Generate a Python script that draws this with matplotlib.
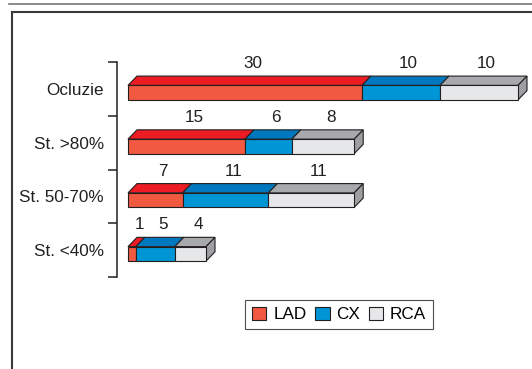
import matplotlib
matplotlib.use("Agg")
import matplotlib.pyplot as plt
from matplotlib.patches import Polygon, Patch
from matplotlib.lines import Line2D
import numpy as np

plt.rcParams["font.family"] = ["Liberation Sans", "DejaVu Sans"]

categories = ["Ocluzie", "St. >80%", "St. 50-70%", "St. <40%"]
series = ["LAD", "CX", "RCA"]
lad = [30, 15, 7, 1]
cx = [10, 6, 11, 5]
rca = [10, 8, 11, 4]

front_colors = ["#F15A40", "#0096D6", "#E6E7E8"]
top_colors = ["#ED1C24", "#0078BF", "#A7A9AC"]
side_color = "#9D9FA2"
edge = "#231F20"
fs = 12.3

W, H = 532, 369
fig = plt.figure(figsize=(W / 100, H / 100), dpi=100)

# axes: value 0..50 spans pixels 128..518, categories span 62..277 from top
ax = fig.add_axes([128 / W, 1 - 277 / H, 390 / W, 215 / H])
ax.set_xlim(0, 50)
ax.set_ylim(3.5, -0.5)

px_x = 390 / 50      # pixels per value unit
px_y = 215 / 4       # pixels per category
dx = 9 / px_x        # depth of the 3d effect, value units
dy = 9.3 / px_y      # depth of the 3d effect, category units
h = 14.5 / px_y      # height of the front face
shift = 0.07

data = np.array([lad, cx, rca], dtype=float)
lefts = np.vstack([np.zeros(len(categories)), np.cumsum(data, axis=0)[:-1]])
centers = np.arange(len(categories)) + shift

for k in range(len(series)):
    ax.barh(centers, data[k], left=lefts[k], height=h, color=front_colors[k],
            edgecolor=edge, linewidth=0.8, zorder=3, clip_on=False)

for i, c in enumerate(centers):
    top = c - h / 2
    bottom = c + h / 2
    for k in range(len(series)):
        l, w = lefts[k][i], data[k][i]
        face = Polygon([(l, top), (l + w, top), (l + w + dx, top - dy), (l + dx, top - dy)],
                       closed=True, facecolor=top_colors[k], edgecolor=edge,
                       linewidth=0.8, zorder=2, clip_on=False)
        ax.add_patch(face)
        ax.text(l + w / 2 + dx * 0.85, top - dy - 0.23, f"{int(w)}",
                ha="center", va="center", fontsize=fs, color="#231F20")
    end = lefts[-1][i] + data[-1][i]
    side = Polygon([(end, top), (end + dx, top - dy), (end + dx, bottom - dy), (end, bottom)],
                   closed=True, facecolor=side_color, edgecolor=edge,
                   linewidth=0.8, zorder=2, clip_on=False)
    ax.add_patch(side)

# bracket-style category axis
for s in ["top", "right", "bottom"]:
    ax.spines[s].set_visible(False)
ax.spines["left"].set_position(("outward", 8))
ax.spines["left"].set_linewidth(1.1)
ax.spines["left"].set_color(edge)
ax.xaxis.set_visible(False)
ax.set_yticks(np.arange(-0.5, len(categories), 1.0))
ax.set_yticklabels([])
ax.tick_params(axis="y", which="major", direction="out", length=6.3, width=1.1, color=edge)
ax.set_yticks(np.arange(len(categories)), minor=True)
ax.set_yticklabels(categories, minor=True, fontsize=fs, color="#231F20")
ax.tick_params(axis="y", which="minor", length=0, pad=9.5)
ax.patch.set_visible(False)

handles = [Patch(facecolor=front_colors[k], edgecolor=edge, linewidth=0.8, label=series[k])
           for k in range(len(series))]
leg = fig.legend(handles=handles, loc="center", bbox_to_anchor=(339 / W, 1 - 314.5 / H),
                 ncol=3, fontsize=fs, frameon=True, fancybox=False, handlelength=0.85,
                 handleheight=0.85, handletextpad=0.4, columnspacing=0.5, borderpad=0.4)
leg.get_frame().set_edgecolor(edge)
leg.get_frame().set_linewidth(0.8)

# page frame
fig.add_artist(Line2D([9 / W, 1], [1 - 4 / H, 1 - 4 / H], color="#777777", linewidth=1.2))
fig.add_artist(Line2D([11.5 / W, 1], [1 - 11.5 / H, 1 - 11.5 / H], color="#3A3A3A", linewidth=1.5))
fig.add_artist(Line2D([11.5 / W, 11.5 / W], [0, 1 - 11.5 / H], color="#3A3A3A", linewidth=1.5))

fig.savefig("out.png", dpi=100)
